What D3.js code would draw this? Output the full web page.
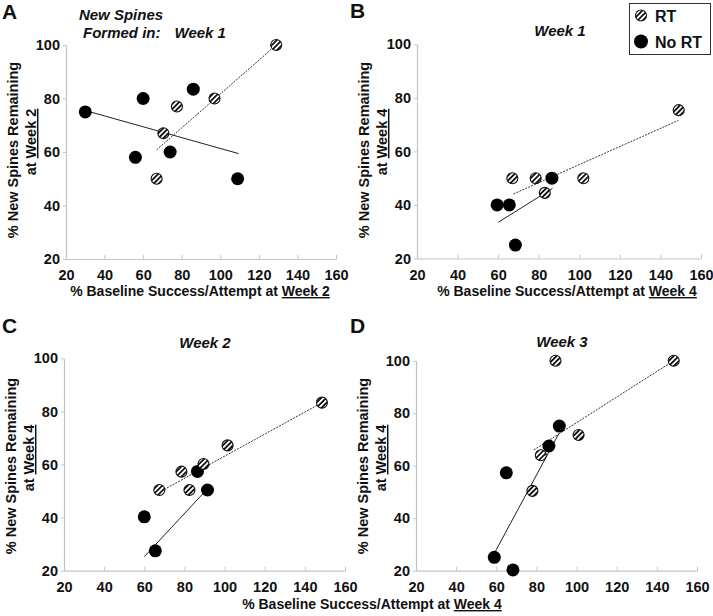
<!DOCTYPE html>
<html><head><meta charset="utf-8">
<script src="https://cdn.jsdelivr.net/npm/d3@7"></script>
<style>
body{margin:0;background:#fff}
text{font-family:"Liberation Sans",Arial,Helvetica,sans-serif;font-weight:bold;fill:#111}
</style>
</head><body>
<svg id="chart" width="713" height="616"></svg>
<script>
// ---- data ----
const xTicks = [20, 40, 60, 80, 100, 120, 140, 160];
const yTicks = [20, 40, 60, 80, 100];
const seriesNames = ["RT", "No RT"];

// Panel A: new spines week 1, remaining at week 2
const aRtX = [67, 70.5, 77.5, 97, 129];
const aRtY = [50, 67, 77, 80, 100];
const aNoX = [30, 56, 60, 74, 86, 109];
const aNoY = [75, 58, 80, 60, 83.5, 50];
const aRtFitX = [67, 129], aRtFitY = [60.8, 100];
const aNoFitX = [32, 109.5], aNoFitY = [75.1, 59.4];

// Panel B: week 1, remaining at week 4
const bRtX = [67, 78.5, 83, 102, 149];
const bRtY = [50, 50, 44.5, 50, 75.4];
const bNoX = [59.5, 65.5, 68.5, 86.5];
const bNoY = [40, 40, 25, 50];
const bRtFitX = [67.6, 148.9], bRtFitY = [44.1, 71.6];
const bNoFitX = [60, 86.8], bNoFitY = [33.5, 46.2];

// Panel C: week 2, remaining at week 4
const cRtX = [67.5, 78.5, 82.5, 89.5, 101.5, 148.5];
const cRtY = [50.4, 57.3, 50.4, 60.2, 67.2, 83.3];
const cNoX = [60, 65.5, 86.5, 91.5];
const cNoY = [40.3, 27.5, 57.4, 50.4];
const cRtFitX = [68.5, 148.5], cRtFitY = [50, 83.3];
const cNoFitX = [60, 91.3], cNoFitY = [25.3, 50.7];

// Panel D: week 3, remaining at week 4
const dRtX = [78, 82.2, 89.5, 101, 148.4];
const dRtY = [50.4, 64, 100, 71.7, 100];
const dNoX = [59, 65, 68.3, 86.2, 91.4];
const dNoY = [25.1, 57.3, 20.3, 67.5, 75.1];
const dRtFitX = [78.7, 148.4], dRtFitY = [66, 100];
const dNoFitX = [59.3, 91.2], dNoFitY = [27, 72.3];

// ---- drawing ----
const svg = d3.select("#chart");
const defs = svg.append("defs");
const pat = defs.append("pattern").attr("id", "hatch")
  .attr("patternUnits", "userSpaceOnUse").attr("width", 3.6).attr("height", 3.6)
  .attr("patternTransform", "rotate(45)");
pat.append("rect").attr("width", 3.6).attr("height", 3.6).attr("fill", "#fff");
pat.append("rect").attr("width", 1.8).attr("height", 3.6).attr("fill", "#111");

const zip = (xs, ys) => xs.map((x, i) => [x, ys[i]]);

function panel(o) {
  const x = d3.scaleLinear().domain([20, 160]).range([o.x0, o.x1]);
  const y = d3.scaleLinear().domain([20, 100]).range([o.yb, o.yt]);
  const g = svg.append("g");

  const xa = g.append("g").attr("transform", `translate(0,${o.yb})`)
    .call(d3.axisBottom(x).tickValues(xTicks).tickSizeInner(-4).tickSizeOuter(0).tickPadding(11));
  const ya = g.append("g").attr("transform", `translate(${o.x0},0)`)
    .call(d3.axisLeft(y).tickValues(yTicks).tickSizeInner(3).tickSizeOuter(0).tickPadding(3));
  [xa, ya].forEach(a => {
    a.select(".domain").attr("stroke", "#c4c4c4").attr("stroke-width", 1.2);
    a.selectAll(".tick line").attr("stroke", "#c4c4c4");
    a.selectAll(".tick text").style("font-size", "14.5px").attr("fill", "#111")
      .style("font-family", '"Liberation Sans",Arial,sans-serif').style("font-weight", "bold");
  });

  const line = d3.line().x(d => x(d[0])).y(d => y(d[1]));
  g.append("path").datum(zip(o.noFitX, o.noFitY)).attr("d", line)
    .attr("fill", "none").attr("stroke", "#222").attr("stroke-width", 1);
  g.append("path").datum(zip(o.rtFitX, o.rtFitY)).attr("d", line)
    .attr("fill", "none").attr("stroke", "#333").attr("stroke-width", 1).attr("stroke-dasharray", "2,1.2");

  g.selectAll(".no").data(zip(o.noX, o.noY)).join("circle")
    .attr("cx", d => x(d[0])).attr("cy", d => y(d[1])).attr("r", 6.5).attr("fill", "#000");
  g.selectAll(".rt").data(zip(o.rtX, o.rtY)).join("circle")
    .attr("cx", d => x(d[0])).attr("cy", d => y(d[1])).attr("r", 5.5)
    .attr("fill", "url(#hatch)").attr("stroke", "#111").attr("stroke-width", 1.1);

  // y-axis title
  const yc = o.yTitleY;
  g.append("text").attr("transform", `translate(${o.x0 - 48},${yc}) rotate(-90)`)
    .attr("text-anchor", "middle").style("font-size", "14.5px").text("% New Spines Remaining");
  const t2 = g.append("text").attr("transform", `translate(${o.x0 - 30},${yc - 8}) rotate(-90)`)
    .attr("text-anchor", "middle").style("font-size", "14.5px");
  t2.append("tspan").text("at ");
  t2.append("tspan").attr("text-decoration", "underline").text(o.yWeek);

  // x-axis title
  if (o.xTitle) {
    const t = g.append("text").attr("x", o.xTitleX).attr("y", o.xTitleY)
      .attr("text-anchor", "middle").style("font-size", "14px");
    t.append("tspan").text("% Baseline Success/Attempt at ");
    t.append("tspan").attr("text-decoration", "underline").text(o.xWeek);
  }

  // panel letter
  g.append("text").attr("x", o.lx).attr("y", o.ly).style("font-size", "21px").text(o.letter);
  // panel title
  if (o.title) {
    g.append("text").attr("x", o.tx).attr("y", o.ty).attr("text-anchor", "middle")
      .style("font-size", "15px").style("font-style", "italic").text(o.title);
  }
}

panel({x0: 66, x1: 336, yt: 45, yb: 259, rtX: aRtX, rtY: aRtY, noX: aNoX, noY: aNoY,
  rtFitX: aRtFitX, rtFitY: aRtFitY, noFitX: aNoFitX, noFitY: aNoFitY,
  yTitleY: 150, yWeek: "Week 2", xTitle: true, xTitleX: 200, xTitleY: 296, xWeek: "Week 2",
  letter: "A", lx: 2, ly: 19});
panel({x0: 417, x1: 701, yt: 44.3, yb: 258.5, rtX: bRtX, rtY: bRtY, noX: bNoX, noY: bNoY,
  rtFitX: bRtFitX, rtFitY: bRtFitY, noFitX: bNoFitX, noFitY: bNoFitY,
  yTitleY: 150, yWeek: "Week 4", xTitle: true, xTitleX: 567, xTitleY: 296, xWeek: "Week 4",
  letter: "B", lx: 350, ly: 18, title: "Week 1", tx: 560, ty: 36});
panel({x0: 64, x1: 345, yt: 358.3, yb: 570.7, rtX: cRtX, rtY: cRtY, noX: cNoX, noY: cNoY,
  rtFitX: cRtFitX, rtFitY: cRtFitY, noFitX: cNoFitX, noFitY: cNoFitY,
  yTitleY: 466, yWeek: "Week 4", xTitle: false,
  letter: "C", lx: 2, ly: 333, title: "Week 2", tx: 205, ty: 348});
panel({x0: 416, x1: 697, yt: 360.7, yb: 570.7, rtX: dRtX, rtY: dRtY, noX: dNoX, noY: dNoY,
  rtFitX: dRtFitX, rtFitY: dRtFitY, noFitX: dNoFitX, noFitY: dNoFitY,
  yTitleY: 466, yWeek: "Week 4", xTitle: false,
  letter: "D", lx: 350, ly: 333, title: "Week 3", tx: 562, ty: 347});

// shared bottom x title
const bt = svg.append("text").attr("x", 372).attr("y", 609).attr("text-anchor", "middle").style("font-size", "14px");
bt.append("tspan").text("% Baseline Success/Attempt at ");
bt.append("tspan").attr("text-decoration", "underline").text("Week 4");

// Panel A title
svg.append("text").attr("x", 121).attr("y", 20).attr("text-anchor", "middle")
  .style("font-size", "15px").style("font-style", "italic").text("New Spines");
const at = svg.append("text").attr("x", 83).attr("y", 38).style("font-size", "15px").style("font-style", "italic");
at.append("tspan").text("Formed in:");
at.append("tspan").attr("dx", 14).text("Week 1");

// legend
const lg = svg.append("g");
lg.append("rect").attr("x", 629.5).attr("y", 3.5).attr("width", 81).attr("height", 51)
  .attr("fill", "#fff").attr("stroke", "#333").attr("stroke-width", 1);
const items = [{name: seriesNames[0], fill: "url(#hatch)", r: 5.5, stroke: "#111"},
               {name: seriesNames[1], fill: "#000", r: 7, stroke: "none"}];
items.forEach((it, i) => {
  const cy = 15.5 + i * 26;
  lg.append("circle").attr("cx", 641).attr("cy", cy).attr("r", it.r)
    .attr("fill", it.fill).attr("stroke", it.stroke).attr("stroke-width", 1.1);
  lg.append("text").attr("x", 655).attr("y", cy + 6).style("font-size", "16px").text(it.name);
});
</script>
</body></html>
